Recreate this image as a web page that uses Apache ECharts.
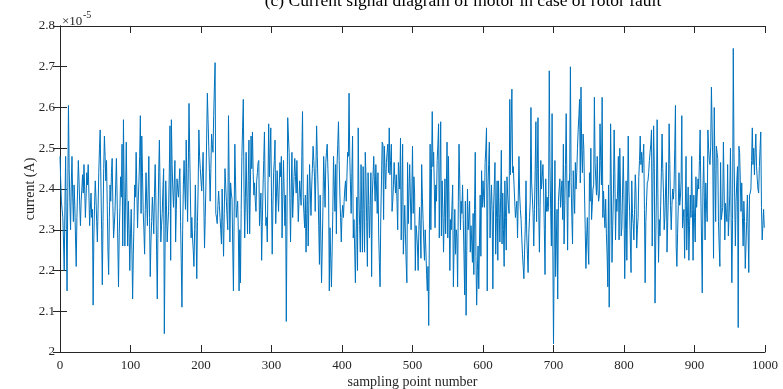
<!DOCTYPE html>
<html>
<head>
<meta charset="utf-8">
<script src="https://cdn.jsdelivr.net/npm/echarts@6/dist/echarts.min.js"></script>
<style>
html,body{margin:0;padding:0;background:#fff;}
#c{width:783px;height:389px;}
</style>
</head>
<body>
<div id="c"></div>
<script>
const titleText = "(c) Current signal diagram of motor in case of rotor fault";
const xName = "sampling point number";
const yName = "current (A)";
const xTicks = [0,100,200,300,400,500,600,700,800,900,1000];
const yTicks = ["2","2.1","2.2","2.3","2.4","2.5","2.6","2.7","2.8"];
const scaleBase = "×10";
const scaleExp = "-5";
// current values, in units of 1e-5 A, for sampling points 0..999
const current = [
2.48,2.42,2.37,2.35,2.33,2.27,2.20,2.36,2.48,2.30,2.15,2.38,2.605,2.45,2.37,2.30,2.41,2.48,2.38,2.32,
2.41,2.36,2.28,2.21,2.33,2.40,2.47,2.42,2.36,2.31,2.37,2.40,2.435,2.39,2.46,2.40,2.33,2.38,2.44,2.41,
2.46,2.39,2.31,2.35,2.39,2.33,2.35,2.115,2.28,2.36,2.42,2.38,2.32,2.27,2.35,2.44,2.50,2.545,2.42,2.30,
2.165,2.32,2.45,2.53,2.48,2.42,2.47,2.36,2.25,2.19,2.33,2.41,2.37,2.44,2.475,2.36,2.28,2.31,2.345,2.41,
2.475,2.38,2.27,2.16,2.29,2.355,2.43,2.38,2.51,2.26,2.57,2.40,2.26,2.38,2.515,2.37,2.26,2.37,2.30,2.20,
2.29,2.35,2.25,2.13,2.24,2.32,2.41,2.38,2.49,2.40,2.305,2.37,2.42,2.48,2.58,2.34,2.53,2.44,2.345,2.30,
2.24,2.35,2.44,2.37,2.31,2.40,2.48,2.33,2.185,2.27,2.32,2.38,2.34,2.29,2.39,2.46,2.37,2.25,2.13,2.31,
2.44,2.52,2.39,2.27,2.31,2.34,2.40,2.45,2.045,2.25,2.42,2.36,2.27,2.31,2.345,2.44,2.555,2.225,2.57,2.46,
2.40,2.355,2.41,2.47,2.27,2.35,2.425,2.40,2.38,2.42,2.45,2.32,2.22,2.11,2.30,2.41,2.47,2.40,2.35,2.52,
2.41,2.32,2.45,2.61,2.49,2.38,2.28,2.33,2.28,2.25,2.21,2.30,2.41,2.30,2.18,2.32,2.41,2.545,2.48,2.45,
2.42,2.395,2.44,2.49,2.37,2.255,2.33,2.41,2.52,2.635,2.57,2.505,2.44,2.37,2.45,2.535,2.51,2.49,2.58,2.65,
2.71,2.34,2.33,2.315,2.36,2.395,2.36,2.33,2.30,2.265,2.40,2.32,2.235,2.34,2.45,2.41,2.37,2.33,2.30,2.58,
2.42,2.27,2.415,2.39,2.375,2.26,2.15,2.33,2.51,2.42,2.33,2.35,2.37,2.29,2.15,2.30,2.17,2.35,2.48,2.55,
2.62,2.40,2.28,2.38,2.49,2.38,2.29,2.42,2.52,2.29,2.40,2.53,2.45,2.54,2.44,2.385,2.415,2.37,2.345,2.42,
2.44,2.465,2.47,2.31,2.35,2.39,2.225,2.32,2.405,2.47,2.54,2.40,2.31,2.33,2.27,2.41,2.56,2.43,2.49,2.55,
2.38,2.24,2.36,2.44,2.47,2.52,2.315,2.38,2.445,2.39,2.345,2.41,2.465,2.43,2.48,2.28,2.38,2.47,2.39,2.31,
2.385,2.075,2.33,2.575,2.53,2.49,2.38,2.27,2.40,2.49,2.33,2.38,2.43,2.475,2.43,2.39,2.47,2.40,2.32,2.37,
2.42,2.39,2.36,2.48,2.59,2.38,2.34,2.305,2.385,2.245,2.34,2.435,2.26,2.36,2.46,2.40,2.335,2.405,2.45,2.505,
2.47,2.43,2.345,2.45,2.555,2.48,2.405,2.31,2.215,2.385,2.28,2.17,2.26,2.355,2.48,2.42,2.355,2.465,2.49,2.51,
2.45,2.395,2.15,2.305,2.23,2.16,2.25,2.345,2.48,2.41,2.345,2.46,2.29,2.46,2.51,2.565,2.47,2.385,2.33,2.27,
2.34,2.36,2.33,2.37,2.40,2.42,2.37,2.43,2.49,2.48,2.635,2.48,2.41,2.34,2.44,2.53,2.28,2.325,2.25,2.17,
2.29,2.38,2.20,2.55,2.385,2.31,2.245,2.46,2.35,2.245,2.455,2.35,2.245,2.49,2.43,2.32,2.21,2.44,2.36,2.28,
2.36,2.44,2.185,2.385,2.43,2.48,2.42,2.37,2.46,2.40,2.34,2.44,2.29,2.22,2.16,2.33,2.42,2.515,2.51,2.325,
2.505,2.45,2.40,2.465,2.49,2.51,2.44,2.55,2.435,2.47,2.51,2.345,2.37,2.41,2.465,2.42,2.39,2.435,2.37,2.30,
2.465,2.43,2.40,2.525,2.275,2.39,2.51,2.24,2.30,2.36,2.29,2.22,2.17,2.465,2.315,2.39,2.46,2.46,2.30,2.38,
2.505,2.34,2.43,2.39,2.20,2.31,2.29,2.26,2.20,2.30,2.355,2.30,2.23,2.46,2.38,2.325,2.27,2.225,2.30,2.25,
2.19,2.15,2.21,2.065,2.30,2.51,2.30,2.45,2.59,2.455,2.49,2.40,2.305,2.41,2.37,2.47,2.51,2.56,2.28,2.44,
2.565,2.285,2.42,2.35,2.245,2.33,2.425,2.29,2.40,2.515,2.28,2.48,2.33,2.20,2.325,2.30,2.36,2.41,2.16,2.26,
2.35,2.24,2.30,2.28,2.16,2.37,2.51,2.42,2.30,2.37,2.34,2.41,2.325,2.24,2.14,2.37,2.09,2.25,2.40,2.30,
2.33,2.37,2.245,2.31,2.27,2.22,2.34,2.19,2.35,2.49,2.235,2.115,2.20,2.26,2.155,2.27,2.385,2.235,2.445,2.355,
2.42,2.38,2.355,2.465,2.50,2.55,2.15,2.40,2.46,2.515,2.28,2.36,2.41,2.345,2.155,2.35,2.41,2.465,2.24,2.33,
2.42,2.225,2.42,2.34,2.27,2.38,2.495,2.265,2.39,2.30,2.21,2.42,2.33,2.25,2.43,2.385,2.36,2.34,2.62,2.435,
2.56,2.645,2.44,2.455,2.41,2.37,2.33,2.35,2.37,2.28,2.38,2.48,2.385,2.35,2.325,2.28,2.24,2.21,2.18,2.25,
2.31,2.42,2.29,2.24,2.195,2.29,2.33,2.37,2.60,2.415,2.38,2.34,2.26,2.35,2.445,2.565,2.32,2.45,2.575,2.355,
2.245,2.36,2.47,2.40,2.43,2.46,2.395,2.30,2.19,2.425,2.345,2.38,2.345,2.355,2.69,2.455,2.35,2.26,2.585,2.265,
2.02,2.25,2.47,2.185,2.27,2.35,2.13,2.37,2.40,2.425,2.355,2.39,2.42,2.325,2.51,2.265,2.36,2.46,2.585,2.40,
2.25,2.42,2.38,2.44,2.70,2.415,2.33,2.265,2.445,2.39,2.34,2.465,2.40,2.44,2.50,2.545,2.58,2.62,2.415,2.65,
2.495,2.44,2.535,2.50,2.39,2.30,2.205,2.28,2.33,2.26,2.215,2.44,2.37,2.50,2.325,2.36,2.40,2.41,2.625,2.465,
2.42,2.385,2.48,2.40,2.37,2.385,2.56,2.47,2.41,2.625,2.33,2.395,2.34,2.305,2.375,2.29,2.24,2.16,2.41,2.11,
2.30,2.56,2.41,2.22,2.31,2.39,2.545,2.44,2.275,2.375,2.345,2.40,2.48,2.275,2.50,2.40,2.285,2.305,2.40,2.48,
2.37,2.18,2.30,2.42,2.225,2.38,2.53,2.395,2.345,2.27,2.195,2.42,2.34,2.315,2.275,2.35,2.435,2.39,2.255,2.30,
2.33,2.43,2.47,2.53,2.46,2.49,2.44,2.48,2.51,2.35,2.17,2.32,2.37,2.415,2.42,2.44,2.47,2.49,2.51,2.545,
2.26,2.40,2.555,2.45,2.12,2.27,2.39,2.57,2.40,2.22,2.325,2.285,2.36,2.44,2.535,2.45,2.39,2.30,2.33,2.40,
2.465,2.245,2.32,2.39,2.56,2.46,2.36,2.30,2.36,2.40,2.375,2.405,2.50,2.605,2.26,2.21,2.29,2.36,2.44,2.36,
2.38,2.42,2.58,2.305,2.33,2.35,2.23,2.36,2.48,2.25,2.33,2.405,2.225,2.31,2.385,2.33,2.48,2.35,2.225,2.385,
2.33,2.27,2.43,2.355,2.39,2.425,2.40,2.47,2.545,2.39,2.27,2.145,2.40,2.48,2.38,2.275,2.415,2.36,2.32,2.545,
2.50,2.47,2.46,2.505,2.65,2.55,2.455,2.23,2.60,2.45,2.32,2.505,2.49,2.475,2.32,2.26,2.21,2.465,2.325,2.34,
2.355,2.515,2.40,2.275,2.365,2.34,2.32,2.46,2.285,2.33,2.385,2.50,2.33,2.17,2.325,2.745,2.49,2.38,2.26,2.37,
2.42,2.455,2.06,2.505,2.49,2.42,2.345,2.415,2.33,2.26,2.37,2.32,2.205,2.26,2.32,2.385,2.30,2.195,2.385,2.39,
2.40,2.47,2.55,2.46,2.50,2.435,2.49,2.535,2.455,2.425,2.40,2.39,2.455,2.50,2.54,2.355,2.275,2.31,2.35,2.305
];

const AX = '#262626';
const FONT = '"Liberation Serif","DejaVu Serif",serif';
const chart = echarts.init(document.getElementById('c'), null, {renderer:'canvas'});
const seriesData = current.map((v,i)=>[i, v]);

const common = {
  axisLine:{show:true, lineStyle:{color:AX, width:1}},
  axisTick:{show:true, inside:true, length:7, lineStyle:{color:AX, width:1}},
  splitLine:{show:false}
};

chart.setOption({
  animation:false,
  backgroundColor:'#fff',
  grid:{left:60, right:18, top:26, bottom:37, containLabel:false, outerBoundsMode:'none'},
  xAxis:[
    Object.assign({type:'value', min:xTicks[0], max:xTicks[xTicks.length-1], interval:xTicks[1]-xTicks[0],
      position:'bottom', name:xName, nameLocation:'middle', nameGap:23, nameMoveOverlap:false,
      nameTextStyle:{fontFamily:FONT, fontSize:14, color:AX},
      axisLabel:{fontFamily:FONT, fontSize:13, color:AX, margin:7, formatter:(v)=>String(v)}}, common),
    Object.assign({type:'value', min:xTicks[0], max:xTicks[xTicks.length-1], interval:xTicks[1]-xTicks[0],
      position:'top', axisLabel:{show:false}}, common)
  ],
  yAxis:[
    Object.assign({type:'value', min:2, max:2.8, interval:0.1, position:'left',
      name:yName, nameLocation:'middle', nameGap:23, nameRotate:90, nameMoveOverlap:false,
      nameTextStyle:{fontFamily:FONT, fontSize:14, color:AX},
      axisLabel:{fontFamily:FONT, fontSize:13, color:AX, margin:5,
        formatter:(v)=>{const k=Math.round((v-2)*10); return yTicks[k] !== undefined ? yTicks[k] : '';}}}, common),
    Object.assign({type:'value', min:2, max:2.8, interval:0.1, position:'right', axisLabel:{show:false}}, common)
  ],
  graphic:[
    {type:'text', x:463, y:1, style:{text:titleText, font:'17.5px '+FONT, fill:'#000', align:'center', verticalAlign:'middle'}, z:10},
    {type:'text', x:62, y:22, style:{text:scaleBase, font:'13px '+FONT, fill:AX, align:'left', verticalAlign:'middle'}},
    {type:'text', x:83, y:15, style:{text:scaleExp, font:'10px '+FONT, fill:AX, align:'left', verticalAlign:'middle'}}
  ],
  series:[{
    type:'line', data:seriesData, showSymbol:false, symbol:'none',
    lineStyle:{color:'#0072BD', width:1}, xAxisIndex:0, yAxisIndex:0, clip:true
  }]
});
</script>
</body>
</html>
